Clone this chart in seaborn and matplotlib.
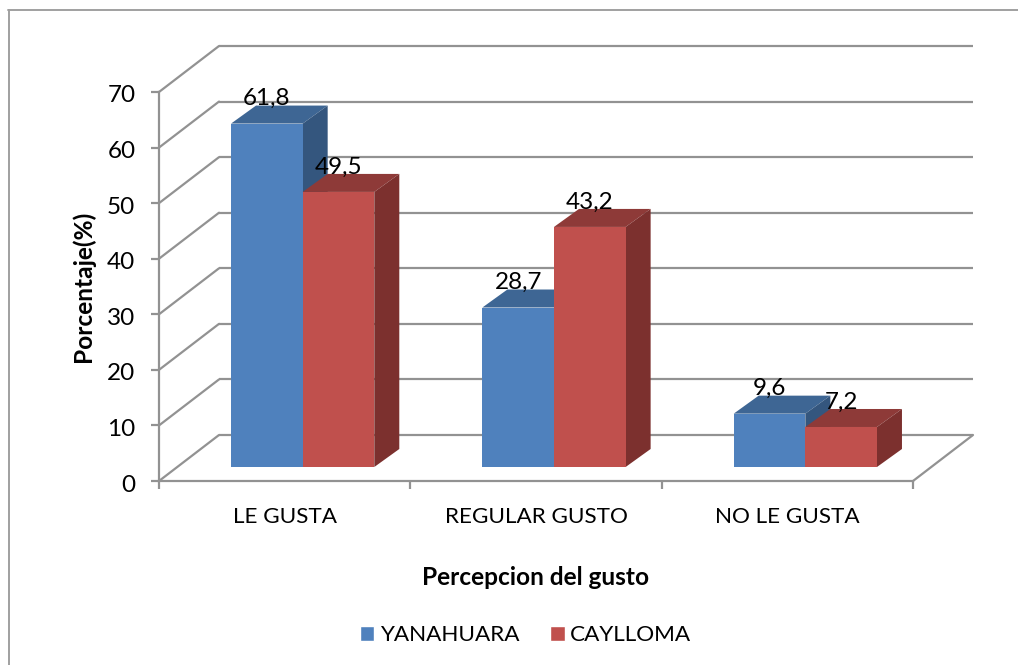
#!/usr/bin/env python3
# -*- coding: utf-8 -*-
import matplotlib
matplotlib.use("Agg")
import matplotlib.pyplot as plt
import pandas as pd
import seaborn as sns
from matplotlib.lines import Line2D
from matplotlib.patches import Patch, Polygon
from matplotlib.transforms import Affine2D

categories = ["LE GUSTA", "REGULAR GUSTO", "NO LE GUSTA"]
yanahuara = [61.8, 28.7, 9.6]
caylloma = [49.5, 43.2, 7.2]
labels_yanahuara = ["61,8", "28,7", "9,6"]
labels_caylloma = ["49,5", "43,2", "7,2"]
y_ticks = [0, 10, 20, 30, 40, 50, 60, 70]

BLUE = ("#4F81BD", "#3E6694", "#34567E")
RED = ("#C0504D", "#8E3A38", "#7C302E")
GRID = "#929292"

df = pd.DataFrame({
    "cat": categories * 2,
    "val": yanahuara + caylloma,
    "serie": ["YANAHUARA"] * 3 + ["CAYLLOMA"] * 3,
})

sns.set_theme(style="white")
plt.rcParams["font.family"] = ["Lato", "DejaVu Sans"]

fig = plt.figure(figsize=(10.18, 6.65), dpi=100)
ax = fig.add_axes([159 / 1018, 184 / 665, 754 / 1018, 389 / 665])

sns.barplot(data=df, x="cat", y="val", hue="serie", palette=[BLUE[0], RED[0]],
            width=0.57, gap=0, saturation=1, legend=False, ax=ax, zorder=3,
            edgecolor="none", linewidth=0)
ax.set_xlim(-0.5, 2.5)
ax.set_ylim(0, 70)

# 3d look: pixel offsets for floor depth, bar inset and bar depth
wall = ax.transData + Affine2D().translate(60, 46)
inset = ax.transData + Affine2D().translate(18, 14)
px_x = 1 / 251.33
px_y = 70 / 389

# back wall + floor
for t in y_ticks:
    ax.plot([-0.5, 2.5], [t, t], transform=wall, color=GRID, lw=1.6, zorder=1,
            clip_on=False, solid_capstyle="butt")
    ax.plot([-0.5, -0.5 + 60 * px_x], [t, t + 46 * px_y], color=GRID, lw=1.6,
            zorder=1, clip_on=False)
ax.plot([2.5, 2.5 + 60 * px_x], [0, 46 * px_y], color=GRID, lw=1.6, zorder=1, clip_on=False)

dx = 25 * px_x
dy = 18 * px_y
# blue first, the red front face hides the blue side
for cont, cols, z, labs in [(ax.containers[0], BLUE, 3, labels_yanahuara),
                            (ax.containers[1], RED, 4, labels_caylloma)]:
    for bar, lab in zip(cont, labs):
        x0 = bar.get_x()
        x1 = x0 + bar.get_width()
        h = bar.get_height()
        bar.set_transform(inset)
        bar.set_zorder(z + 0.5)
        bar.set_clip_on(False)
        ax.add_patch(Polygon([(x0, h), (x1, h), (x1 + dx, h + dy), (x0 + dx, h + dy)],
                             facecolor=cols[1], edgecolor="none", transform=inset,
                             zorder=z, clip_on=False))
        ax.add_patch(Polygon([(x1, 0), (x1 + dx, dy), (x1 + dx, h + dy), (x1, h)],
                             facecolor=cols[2], edgecolor="none", transform=inset,
                             zorder=z, clip_on=False))
        ax.annotate(lab, ((x0 + x1) / 2, h), xycoords=inset, xytext=(0, 25),
                    textcoords="offset pixels", ha="center", va="center", fontsize=17.5,
                    color="black", zorder=10, annotation_clip=False)

sns.despine(ax=ax)
for s in ["left", "bottom"]:
    ax.spines[s].set_color(GRID)
    ax.spines[s].set_linewidth(1.6)
    ax.spines[s].set_zorder(2)

ax.set_yticks(y_ticks)
ax.set_xticks([-0.5, 0.5, 1.5, 2.5], minor=False, labels=["", "", "", ""])
ax.tick_params(axis="both", length=6, width=1.6, color=GRID, labelsize=17.5, bottom=True, left=True)
ax.tick_params(axis="y", pad=11, labelcolor="black")
for lbl in ax.get_yticklabels():
    lbl.set_transform(lbl.get_transform() + Affine2D().translate(0, -2))
for c, name in enumerate(categories):
    ax.annotate(name, (c, 0), xycoords="data", xytext=(0, -36), textcoords="offset pixels",
                ha="center", va="center", fontsize=16.2, color="black", annotation_clip=False)

ax.set_xlabel("Percepcion del gusto", fontsize=17.6, fontweight="bold", color="black", labelpad=52)
ax.set_ylabel("Porcentaje(%)", fontsize=17.6, fontweight="bold", color="black", labelpad=9)

handles = [Patch(facecolor=BLUE[0], label="YANAHUARA"), Patch(facecolor=RED[0], label="CAYLLOMA")]
fig.legend(handles=handles, loc="center", bbox_to_anchor=(525.5 / 1018, 1 - 635 / 665), ncol=2,
           frameon=False, fontsize=16.2, handlelength=0.66, handleheight=0.66,
           handletextpad=0.25, columnspacing=1.35, labelcolor="black")

# chart frame
fig.add_artist(Line2D([8.5 / 1018, 8.5 / 1018], [0, 1 - 10 / 665], color="#A0A0A0", lw=1.4))
fig.add_artist(Line2D([8 / 1018, 1], [1 - 10 / 665, 1 - 10 / 665], color="#A0A0A0", lw=1.4))

fig.savefig("out.png", dpi=100)
